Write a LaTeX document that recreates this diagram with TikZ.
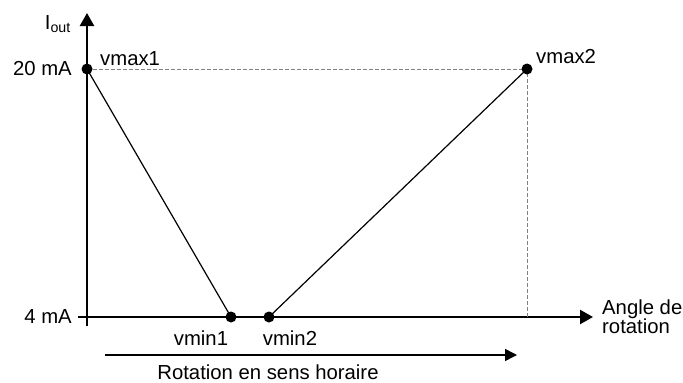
\documentclass[tikz,border=0pt]{standalone}
\usepackage{fontspec}
\setmainfont{Liberation Sans}
\usetikzlibrary{arrows.meta}
\begin{document}
\begin{tikzpicture}[x=1pt,y=-1pt,
  axis/.style={line width=2.4pt,-{Triangle[length=13pt,width=14pt]}},
  dot/.style={circle,fill,inner sep=0pt,minimum size=11pt},
  guide/.style={gray,line width=0.9pt,dash pattern=on 4pt off 2pt},
  curve/.style={line width=1.2pt},
  lbl/.style={font=\fontsize{20.3}{19}\selectfont,inner sep=0pt}]
\useasboundingbox (0,0) rectangle (683,383);
% axes
\coordinate (xs) at (78,317);
\coordinate (xe) at (593,317);
\coordinate (ys) at (87,326);
\coordinate (ye) at (87,13);
\draw[axis] (xs) -- (xe);
\draw[axis] (ys) -- (ye);
\node[lbl,anchor=east] (iout) at (71,24) {I\textsubscript{out}};
\node[lbl,anchor=east] (top) at (72,69) {20 mA};
\node[lbl,anchor=east] (bot) at (72,317) {4 mA};
\node[lbl,anchor=north west,align=left] (angle) at (602,300) {Angle de\\rotation};
% points
\coordinate (vmax1) at (87,69);
\coordinate (vmax2) at (527,69);
\coordinate (vmin1) at (231,317);
\coordinate (vmin2) at (269,317);
\coordinate (foot) at (527,317);
\draw[guide] (vmax1) -- (vmax2) -- (foot);
\draw[curve] (vmax1) -- (vmin1);
\draw[curve] (vmin2) -- (vmax2);
\foreach \p in {vmax1,vmax2,vmin1,vmin2}
  \node[dot] (d\p) at (\p) {};
\node[lbl,anchor=west] (lmax1) at (100,59) {vmax1};
\node[lbl,anchor=west] (lmax2) at (536,57) {vmax2};
\node[lbl] (lmin1) at (201,338) {vmin1};
\node[lbl] (lmin2) at (290,338) {vmin2};
% rotation direction
\coordinate (rs) at (105,355);
\coordinate (re) at (517,355);
\draw[line width=1.5pt,-{Triangle[length=12pt,width=12pt]}] (rs) -- (re);
\node[lbl] (rot) at (268,372) {Rotation en sens horaire};
\end{tikzpicture}
\end{document}
